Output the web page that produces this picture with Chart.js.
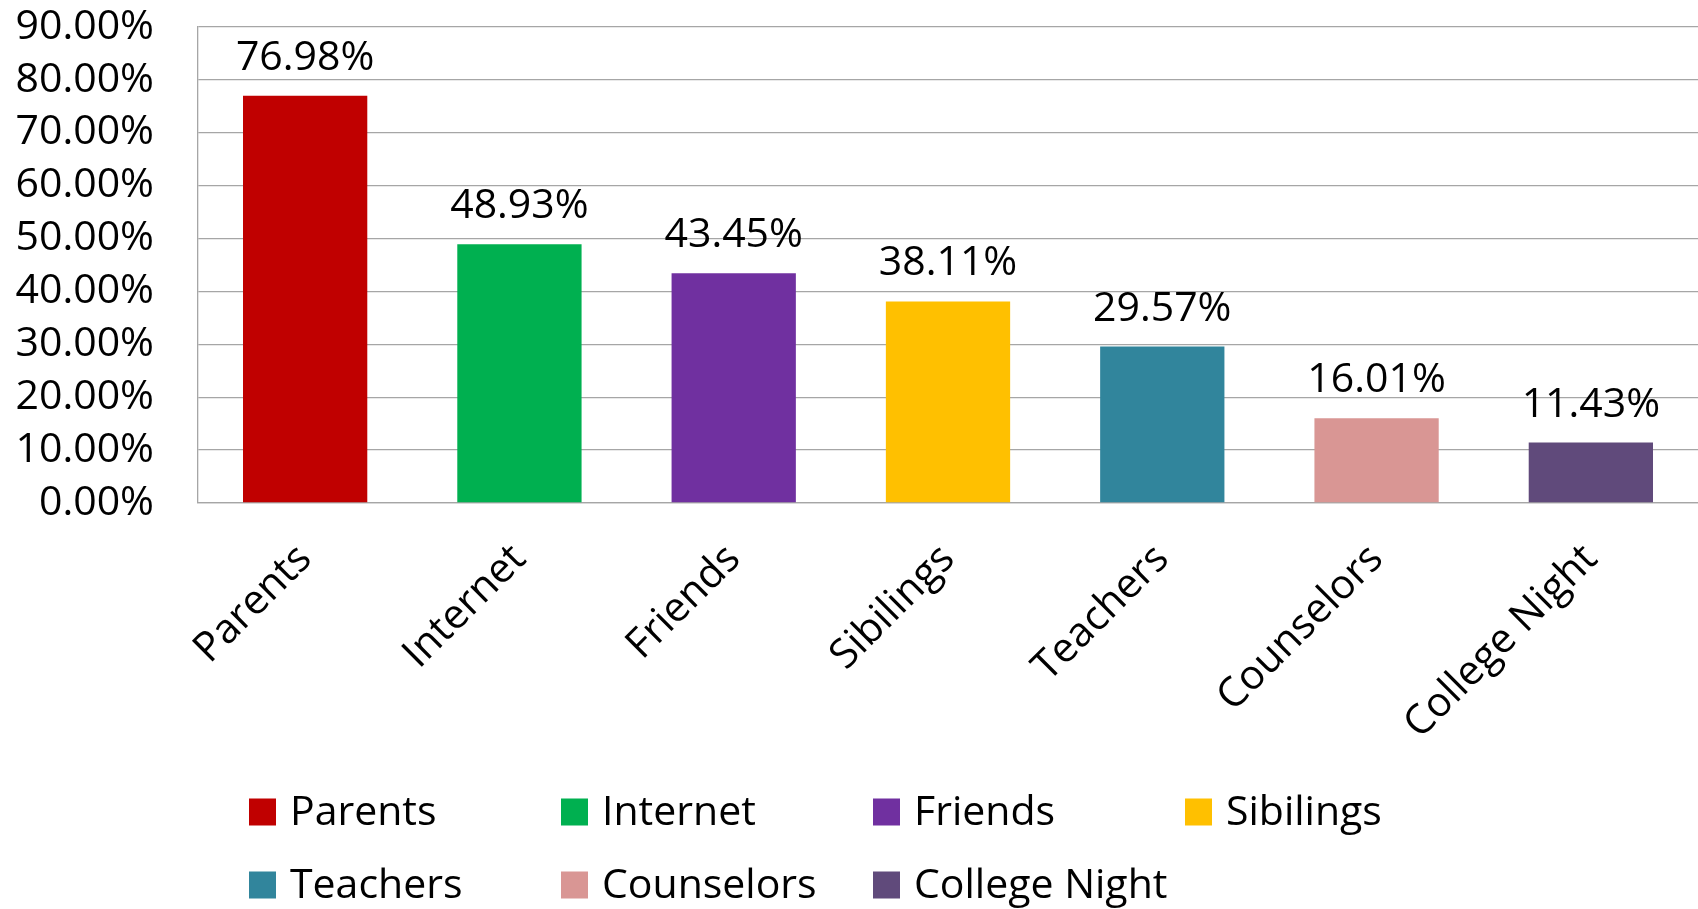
<!DOCTYPE html>
<html>
<head>
<meta charset="utf-8">
<script src="https://cdn.jsdelivr.net/npm/chart.js@4.4.0/dist/chart.umd.min.js"></script>
<style>
  html, body { margin: 0; padding: 0; background: #fff; }
  #wrap { width: 1698px; height: 909px; position: relative; }
</style>
</head>
<body>
<div id="wrap"><canvas id="myChart"></canvas></div>
<script>
// categories and values (percent)
const categories = ['Parents', 'Internet', 'Friends', 'Sibilings', 'Teachers', 'Counselors', 'College Night'];
const shares = [76.98, 48.93, 43.45, 38.11, 29.57, 16.01, 11.43];
const barColors = ['#C00000', '#00B050', '#7030A0', '#FFC000', '#31859C', '#D99694', '#604A7B'];
const yTicks = [0, 10, 20, 30, 40, 50, 60, 70, 80, 90];

const FONT = '"Open Sans", sans-serif';
const gridGray = '#a6a6a6';

// value labels on top of the bars
const valueLabels = {
    id: 'valueLabels',
    afterDatasetsDraw(chart) {
        const ctx = chart.ctx;
        const meta = chart.getDatasetMeta(0);
        ctx.save();
        ctx.font = '41px ' + FONT;
        ctx.fillStyle = '#000';
        ctx.textAlign = 'center';
        ctx.textBaseline = 'alphabetic';
        meta.data.forEach((bar, i) => {
            ctx.fillText(shares[i].toFixed(2) + '%', bar.x, bar.y - 26);
        });
        ctx.restore();
    }
};

// legend in a 4 column grid, like the original
const gridLegend = {
    id: 'gridLegend',
    afterDraw(chart) {
        const ctx = chart.ctx;
        ctx.save();
        ctx.font = '41px ' + FONT;
        ctx.textBaseline = 'middle';
        ctx.textAlign = 'left';
        categories.forEach((name, i) => {
            const col = i % 4;
            const row = Math.floor(i / 4);
            const x = 249 + col * 312;
            const y = 812 + row * 73;
            ctx.fillStyle = barColors[i];
            ctx.fillRect(x, y - 13.5, 27, 27);
            ctx.fillStyle = '#000';
            ctx.fillText(name, x + 41, y + 1);
        });
        ctx.restore();
    }
};

const ctx = document.getElementById('myChart');

new Chart(ctx, {
    type: 'bar',
    data: {
        labels: categories,
        datasets: [{
            label: 'Share',
            data: shares,
            backgroundColor: barColors,
            borderWidth: 0,
            categoryPercentage: 1,
            barPercentage: 0.58
        }]
    },
    options: {
        responsive: true,
        maintainAspectRatio: false,
        animation: false,
        layout: { padding: { top: 27, right: 0, bottom: 0, left: 0 } },
        plugins: {
            legend: { display: false },
            tooltip: { enabled: false }
        },
        scales: {
            y: {
                min: 0,
                max: 90,
                afterFit(scale) { scale.width = 198; },
                afterBuildTicks(scale) { scale.ticks = yTicks.map(v => ({ value: v })); },
                ticks: {
                    autoSkip: false,
                    padding: 0,
                    color: '#000',
                    font: { family: FONT, size: 41, lineHeight: 1 },
                    callback: v => v.toFixed(2) + '%'
                },
                // invisible tick marks keep the labels away from the axis
                grid: { color: gridGray, lineWidth: 1.3, drawTicks: true, tickLength: 44, tickColor: 'rgba(0,0,0,0)' },
                border: { display: true, color: gridGray, width: 1.3 }
            },
            x: {
                afterFit(scale) { scale.height = 406; },
                ticks: {
                    autoSkip: false,
                    minRotation: 45,
                    maxRotation: 45,
                    padding: 32,
                    color: '#000',
                    font: { family: FONT, size: 41 }
                },
                grid: { display: false, drawTicks: false },
                border: { display: true, color: gridGray, width: 1.3 }
            }
        }
    },
    plugins: [valueLabels, gridLegend]
});
</script>
</body>
</html>
